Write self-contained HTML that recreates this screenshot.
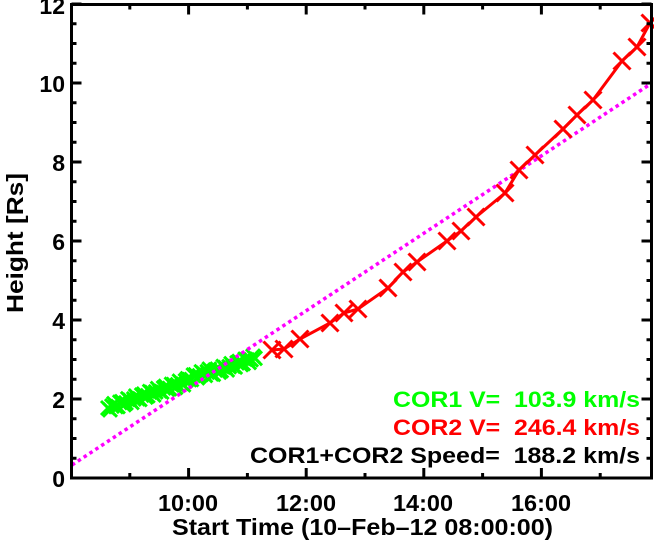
<!DOCTYPE html>
<html><head><meta charset="utf-8"><style>
html,body{margin:0;padding:0;background:#fff;}
svg{display:block;font-family:"Liberation Sans",Arial,sans-serif;font-weight:bold;}
text{white-space:pre;}
</style></head><body>
<svg id="s" width="654" height="542" viewBox="0 0 654 542" xmlns="http://www.w3.org/2000/svg">
<g id="green" stroke="#00ff00" stroke-width="3" fill="none"></g>
<line x1="72" y1="465" x2="652" y2="83" stroke="#ff00ff" stroke-width="3.5" stroke-dasharray="3.5 3.5"/>
<g id="red" stroke="#ff0000" stroke-width="3" fill="none"></g>
<g id="axes" stroke="#000" stroke-width="3" fill="none">
<rect x="71.5" y="4.5" width="580" height="473.5"/>
</g>
<g font-size="23" fill="#000" text-anchor="end">
<text x="65" y="487">0</text>
<text x="65" y="408">2</text>
<text x="65" y="329">4</text>
<text x="65" y="250">6</text>
<text x="65" y="171">8</text>
<text x="65" y="92">10</text>
<text x="65" y="14">12</text>
</g>
<g font-size="23" fill="#000">
<text x="158" y="511" textLength="60" lengthAdjust="spacingAndGlyphs">10:00</text>
<text x="276" y="511" textLength="60" lengthAdjust="spacingAndGlyphs">12:00</text>
<text x="393" y="511" textLength="60" lengthAdjust="spacingAndGlyphs">14:00</text>
<text x="511" y="511" textLength="60" lengthAdjust="spacingAndGlyphs">16:00</text>
<text x="172" y="535" textLength="381" lengthAdjust="spacingAndGlyphs">Start Time (10–Feb–12 08:00:00)</text>
<text transform="translate(23,313) rotate(-90)" textLength="140" lengthAdjust="spacingAndGlyphs">Height [Rs]</text>
</g>
<g font-size="22">
<text x="393" y="407" fill="#00ff00" textLength="247" lengthAdjust="spacingAndGlyphs">COR1 V=  103.9 km/s</text>
<text x="393" y="435" fill="#ff0000" textLength="247" lengthAdjust="spacingAndGlyphs">COR2 V=  246.4 km/s</text>
<text x="250" y="463" fill="#000" textLength="390" lengthAdjust="spacingAndGlyphs">COR1+COR2 Speed=  188.2 km/s</text>
</g>
</svg>
<script>
var NS="http://www.w3.org/2000/svg";
function el(p,t,a){var e=document.createElementNS(NS,t);for(var k in a)e.setAttribute(k,a[k]);p.appendChild(e);return e;}
var ax=document.getElementById('axes');
for(var i=0;i<=24;i++){var y=478-19.75*i;var L=(i%4==0)?10:5;
 el(ax,'line',{x1:71.5,y1:y,x2:71.5+L,y2:y});el(ax,'line',{x1:651.5,y1:y,x2:651.5-L,y2:y});}
for(var h=1;h<=9;h++){var x=71+58.8*h;var L=(h%2==0)?10:5;
 el(ax,'line',{x1:x,y1:478,x2:x,y2:478-L});el(ax,'line',{x1:x,y1:4.5,x2:x,y2:4.5+L});}
var g=document.getElementById('green');
for(var j=0;j<75;j++){var t=j/74;var x=108+147*t;var y=408-50*t+Math.sin(j*1.7)*2.5+(t>0.55&&t<0.7?-2:0);var s=7;
 el(g,'path',{d:'M'+(x-s)+' '+(y-s)+'L'+(x+s)+' '+(y+s)+'M'+(x-s)+' '+(y+s)+'L'+(x+s)+' '+(y-s)});}
var pts=[[272,350],[284,349],[300,339],[330,323],[344,313],[358,309],[388,288],[403,272],[417,262],[447,241],[461,231],[476,217],[505,193],[519,170],[535,155],[563,129],[577,115],[593,100],[622,61],[637,47],[650,23]];
var r=document.getElementById('red');
el(r,'polyline',{points:pts.map(function(p){return p.join(',');}).join(' ')});
pts.forEach(function(p){var s=8.5;var x=p[0],y=p[1];
 el(r,'path',{d:'M'+(x-s)+' '+(y-s)+'L'+(x+s)+' '+(y+s)+'M'+(x-s)+' '+(y+s)+'L'+(x+s)+' '+(y-s)});});
</script>
</body></html>
